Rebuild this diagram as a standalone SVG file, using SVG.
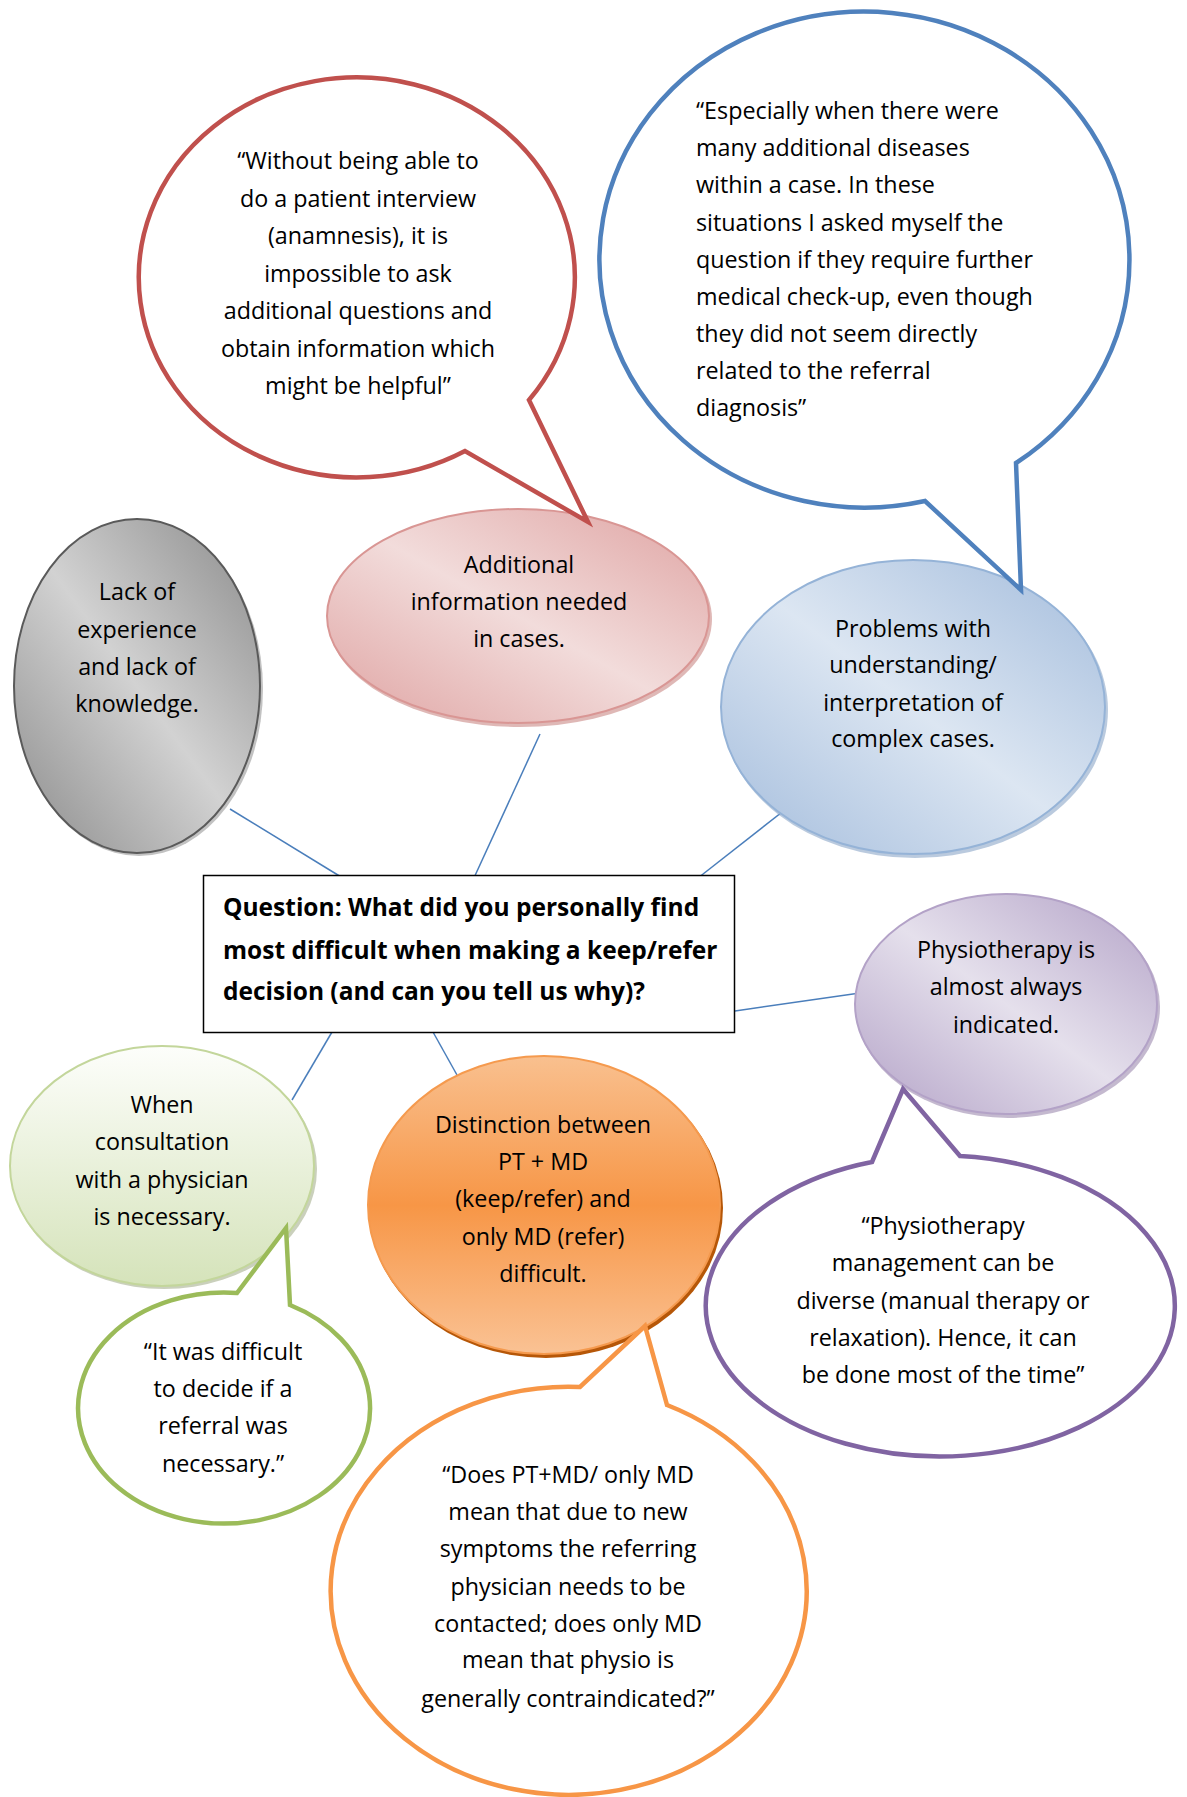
<svg xmlns="http://www.w3.org/2000/svg" width="1187" height="1797" viewBox="0 0 1187 1797">
<style>
.t{font-family:"Open Sans","Liberation Sans",sans-serif;font-size:23.3px;fill:#000;text-anchor:middle}
.l{text-anchor:start}
.b{font-weight:bold;font-size:24.5px;text-anchor:start}
.con{stroke:#4A7EBB;stroke-width:1.5;fill:none}
.bub{fill:#fff;stroke-width:4.5;stroke-linejoin:miter}
</style>
<defs>
<linearGradient id="gGray" x1="1" y1="0" x2="0" y2="1"><stop offset="0" stop-color="#8A8A8A"/><stop offset="0.5" stop-color="#D2D2D2"/><stop offset="1" stop-color="#8A8A8A"/></linearGradient>
<linearGradient id="gPink" x1="1" y1="0" x2="0" y2="1"><stop offset="0" stop-color="#DFA3A2"/><stop offset="0.5" stop-color="#F2DCDB"/><stop offset="1" stop-color="#DFA3A2"/></linearGradient>
<linearGradient id="gBlue" x1="1" y1="0" x2="0" y2="1"><stop offset="0" stop-color="#A3BCDC"/><stop offset="0.5" stop-color="#DCE6F2"/><stop offset="1" stop-color="#A3BCDC"/></linearGradient>
<linearGradient id="gPurp" x1="1" y1="0" x2="0" y2="1"><stop offset="0" stop-color="#B3A2C7"/><stop offset="0.5" stop-color="#E5E0EC"/><stop offset="1" stop-color="#B3A2C7"/></linearGradient>
<linearGradient id="gGreen" x1="0" y1="0" x2="0" y2="1"><stop offset="0" stop-color="#FDFEFB"/><stop offset="1" stop-color="#D5E3BA"/></linearGradient>
<linearGradient id="gOrange" x1="0" y1="0" x2="0" y2="1"><stop offset="0" stop-color="#F9C08F"/><stop offset="0.5" stop-color="#F79646"/><stop offset="1" stop-color="#FAC294"/></linearGradient>
</defs>
<rect width="1187" height="1797" fill="#fff"/>

<g id="connectors">
<line class="con" x1="230" y1="809" x2="346" y2="880"/>
<line class="con" x1="540" y1="734" x2="473" y2="880"/>
<line class="con" x1="786" y1="809" x2="698" y2="878"/>
<line class="con" x1="867" y1="992" x2="735" y2="1011"/>
<line class="con" x1="332" y1="1032" x2="292" y2="1100"/>
<line class="con" x1="433" y1="1032" x2="457" y2="1075"/>
</g>

<g id="question">
<rect x="203.5" y="875.5" width="531" height="157" fill="#fff" stroke="#000" stroke-width="1.5"/>
<text class="t b" x="223" y="916">Question: What did you personally find</text>
<text class="t b" x="223" y="959">most difficult when making a keep/refer</text>
<text class="t b" x="223" y="1000">decision (and can you tell us why)?</text>
</g>

<g id="lack">
<ellipse cx="139" cy="689" rx="124" ry="167" fill="#9A9A9A" opacity="0.6"/>
<ellipse cx="137" cy="686" rx="123" ry="167" fill="url(#gGray)" stroke="#5A5A5A" stroke-width="2"/>
<text class="t" x="137" y="600">Lack of</text>
<text class="t" x="137" y="638">experience</text>
<text class="t" x="137" y="675">and lack of</text>
<text class="t" x="137" y="712">knowledge.</text>
</g>

<g id="additional">
<ellipse cx="520" cy="619" rx="192" ry="108" fill="#C98886" opacity="0.6"/>
<ellipse cx="518" cy="616" rx="191" ry="107" fill="url(#gPink)" stroke="#D99694" stroke-width="2"/>
<text class="t" x="519" y="573">Additional</text>
<text class="t" x="519" y="610">information needed</text>
<text class="t" x="519" y="647">in cases.</text>
</g>

<g id="problems">
<ellipse cx="915" cy="710" rx="193" ry="148" fill="#8CA6C8" opacity="0.6"/>
<ellipse cx="913" cy="707" rx="192" ry="147" fill="url(#gBlue)" stroke="#95B3D7" stroke-width="2"/>
<text class="t" x="913" y="637">Problems with</text>
<text class="t" x="913" y="673">understanding/</text>
<text class="t" x="913" y="711">interpretation of</text>
<text class="t" x="913" y="747">complex cases.</text>
</g>

<g id="physio">
<ellipse cx="1008" cy="1007" rx="152" ry="111" fill="#9C8BAF" opacity="0.6"/>
<ellipse cx="1006" cy="1004" rx="151" ry="110" fill="url(#gPurp)" stroke="#B3A2C7" stroke-width="2"/>
<text class="t" x="1006" y="958">Physiotherapy is</text>
<text class="t" x="1006" y="995">almost always</text>
<text class="t" x="1006" y="1033">indicated.</text>
</g>

<g id="when">
<ellipse cx="164" cy="1169" rx="153" ry="120" fill="#A6B08F" opacity="0.6"/>
<ellipse cx="162" cy="1166" rx="152" ry="120" fill="url(#gGreen)" stroke="#C3D69B" stroke-width="2"/>
<text class="t" x="162" y="1113">When</text>
<text class="t" x="162" y="1150">consultation</text>
<text class="t" x="162" y="1188">with a physician</text>
<text class="t" x="162" y="1225">is necessary.</text>
</g>

<g id="distinction">
<ellipse cx="546" cy="1208" rx="177" ry="150" fill="#B65708"/>
<ellipse cx="544" cy="1205" rx="176" ry="149" fill="url(#gOrange)" stroke="#F59A4E" stroke-width="2"/>
<text class="t" x="543" y="1133">Distinction between</text>
<text class="t" x="543" y="1170">PT + MD</text>
<text class="t" x="543" y="1207">(keep/refer) and</text>
<text class="t" x="543" y="1245">only MD (refer)</text>
<text class="t" x="543" y="1282">difficult.</text>
</g>

<g id="quote-red">
<path class="bub" stroke="#C0504D" d="M 529 400 L 588 522 L 465 451 A 218 200 0 1 1 529 400 Z"/>
<text class="t" x="358" y="169">“Without being able to</text>
<text class="t" x="358" y="206.5">do a patient interview</text>
<text class="t" x="358" y="244">(anamnesis), it is</text>
<text class="t" x="358" y="281.5">impossible to ask</text>
<text class="t" x="358" y="319">additional questions and</text>
<text class="t" x="358" y="356.5">obtain information which</text>
<text class="t" x="358" y="394">might be helpful”</text>
</g>

<g id="quote-blue">
<path class="bub" stroke="#4F81BD" d="M 1016 463 L 1021 590 L 925 501 A 265 248 0 1 1 1016 463 Z"/>
<text class="t l" x="696" y="119">“Especially when there were</text>
<text class="t l" x="696" y="156">many additional diseases</text>
<text class="t l" x="696" y="193">within a case. In these</text>
<text class="t l" x="696" y="230.5">situations I asked myself the</text>
<text class="t l" x="696" y="267.5">question if they require further</text>
<text class="t l" x="696" y="304.5">medical check-up, even though</text>
<text class="t l" x="696" y="341.5">they did not seem directly</text>
<text class="t l" x="696" y="378.5">related to the referral</text>
<text class="t l" x="696" y="416">diagnosis”</text>
</g>

<g id="quote-green">
<path class="bub" stroke="#9BBB59" d="M 290 1305 L 286 1228 L 237 1293 A 146 115.5 0 1 0 290 1305 Z"/>
<text class="t" x="223" y="1360">“It was difficult</text>
<text class="t" x="223" y="1397">to decide if a</text>
<text class="t" x="223" y="1434">referral was</text>
<text class="t" x="223" y="1472">necessary.”</text>
</g>

<g id="quote-orange">
<path class="bub" stroke="#F79646" d="M 667 1405 L 645 1326 L 580 1387 A 238 204 0 1 0 667 1405 Z"/>
<text class="t" x="568" y="1483">“Does PT+MD/ only MD</text>
<text class="t" x="568" y="1520">mean that due to new</text>
<text class="t" x="568" y="1557">symptoms the referring</text>
<text class="t" x="568" y="1595">physician needs to be</text>
<text class="t" x="568" y="1632">contacted; does only MD</text>
<text class="t" x="568" y="1668">mean that physio is</text>
<text class="t" x="568" y="1707">generally contraindicated?”</text>
</g>

<g id="quote-purple">
<path class="bub" stroke="#8064A2" d="M 872 1162 L 903 1089 L 960 1156 A 234.5 150.5 0 1 1 872 1162 Z"/>
<text class="t" x="943" y="1234">“Physiotherapy</text>
<text class="t" x="943" y="1271">management can be</text>
<text class="t" x="943" y="1309">diverse (manual therapy or</text>
<text class="t" x="943" y="1346">relaxation). Hence, it can</text>
<text class="t" x="943" y="1383">be done most of the time”</text>
</g>
</svg>
